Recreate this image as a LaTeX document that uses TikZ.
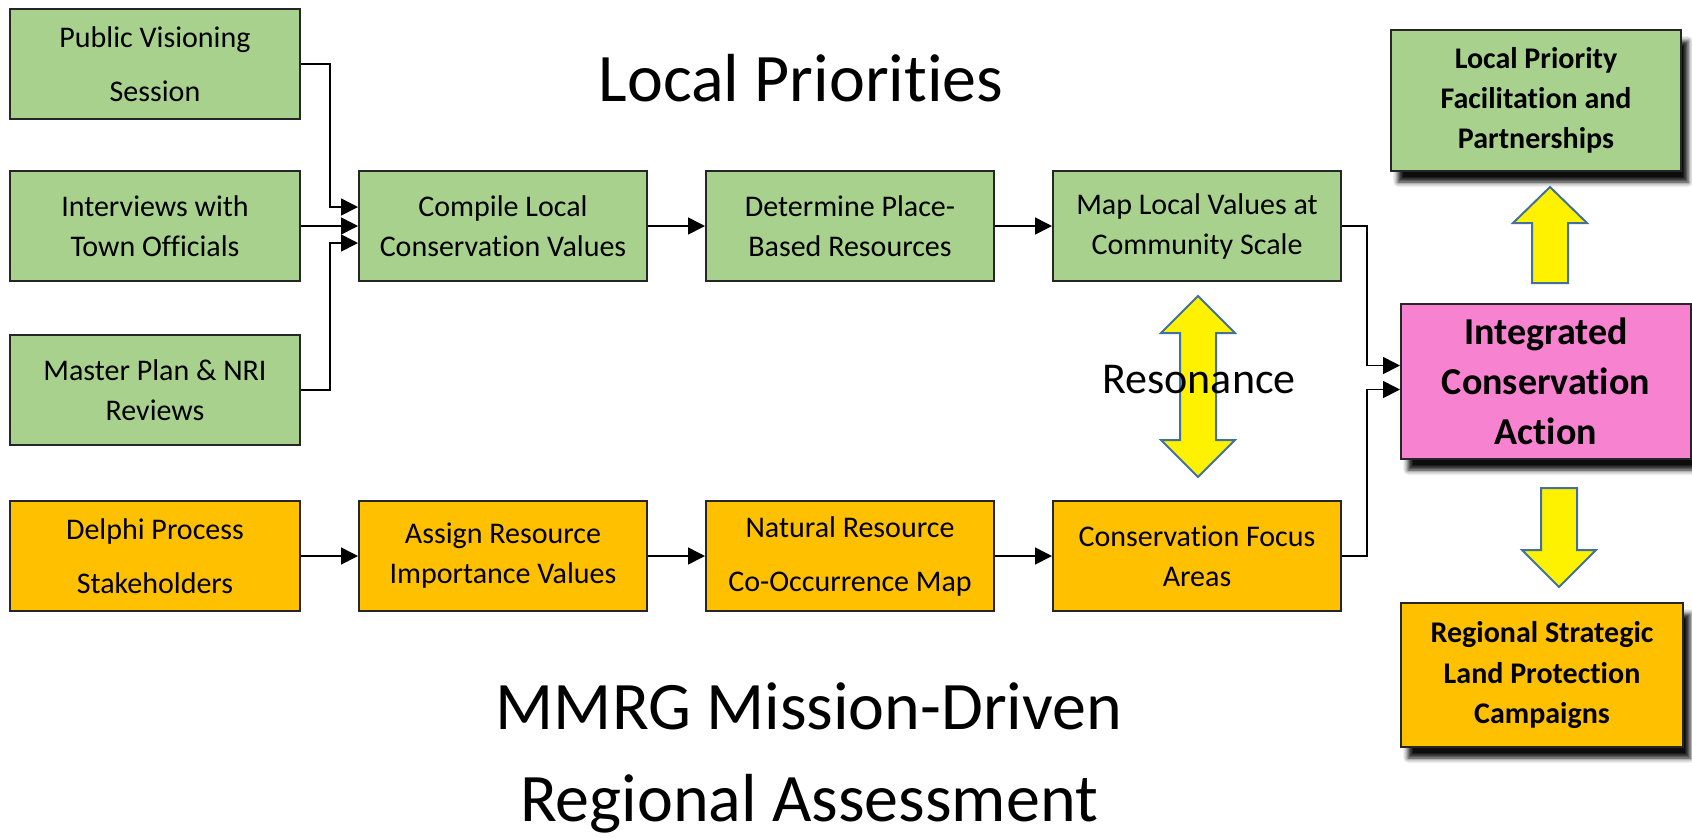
\documentclass[tikz,border=0pt]{standalone}
\usepackage{fontspec}
\setmainfont{Carlito}[Ligatures=NoCommon]
\usetikzlibrary{%
  arrows.meta,%
  positioning,% wg. " of "
  shadows,%
  shadows.blur% blur shadow
}
\definecolor{boxgreen}{RGB}{169,209,142}
\definecolor{boxorange}{RGB}{255,192,0}
\definecolor{boxpink}{RGB}{246,130,208}
\definecolor{arrowblue}{RGB}{65,113,156}

\begin{document}
\begin{tikzpicture}[x=0.5pt,y=-0.5pt, node distance=28.5pt,
    stagebox/.style={draw=black!85, line width=1pt, minimum width=144pt, minimum height=55pt, inner sep=2pt, align=center, font=\fontsize{15}{20}\selectfont},
    local/.style={stagebox, fill=boxgreen},
    regional/.style={stagebox, fill=boxorange},
    source/.style={minimum width=145pt},
    widespaced/.style={font=\fontsize{15}{27}\selectfont},
    outcome/.style={draw=black!85, line width=1pt, align=center, font=\bfseries\fontsize{15}{20}\selectfont,
      blur shadow={shadow xshift=3.5pt, shadow yshift=-5.5pt, shadow blur radius=2.5pt, shadow opacity=95}},
    flow/.style={-{Triangle[length=8.5pt,width=8.5pt]}, line width=0.8pt},
    bigarrow/.style={draw=arrowblue, line width=1pt, fill=yellow, line join=miter},
    title/.style={font=\fontsize{34}{46}\selectfont, align=center}]
    \useasboundingbox (0,0) rectangle (1692,837);

    %local priorities
    \node[local, source, widespaced, anchor=north west] (pub) at (9,8) {Public Visioning\\Session};
    \node[local, source, below=25pt of pub] (intv) {Interviews with\\Town Officials};
    \node[local, source, below=26pt of intv] (mast) {Master Plan \& NRI\\Reviews};
    \node[local, right=of intv] (comp) {Compile Local\\Conservation Values};
    \node[local, right=of comp] (det) {Determine Place-\\Based Resources};
    \node[local, right=of det] (map) {Map Local Values at\\Community Scale};

    %regional assessment
    \node[regional, source, widespaced, below=27pt of mast] (delphi) {Delphi Process\\Stakeholders};
    \node[regional, right=of delphi] (assign) {Assign Resource\\Importance Values};
    \node[regional, widespaced, right=of assign] (nat) {Natural Resource\\Co-Occurrence Map};
    \node[regional, right=of nat] (focus) {Conservation Focus\\Areas};

    %outcomes
    \node[outcome, fill=boxgreen, minimum width=145pt, minimum height=70.5pt, anchor=north west] (lpf) at (1390,29) {Local Priority\\Facilitation and\\Partnerships};
    \node[outcome, fill=boxpink, minimum width=145pt, minimum height=77.5pt, anchor=north west, font=\bfseries\fontsize{19}{25}\selectfont] (ica) at (1400,303) {Integrated\\Conservation\\Action};
    \node[outcome, fill=boxorange, minimum width=141pt, minimum height=72pt, anchor=north west] (slp) at (1400,602) {Regional Strategic\\Land Protection\\Campaigns};

    %block arrows
    \draw[bigarrow] (1198,296) -- (1235,333) -- (1216,333) -- (1216,440) -- (1235,440) -- (1198,477) -- (1161,440) -- (1180,440) -- (1180,333) -- (1161,333) -- cycle;
    \draw[bigarrow] (1550,187) -- (1587,223) -- (1568,223) -- (1568,283) -- (1532,283) -- (1532,223) -- (1513,223) -- cycle;
    \draw[bigarrow] (1541,488) -- (1577,488) -- (1577,550) -- (1596,550) -- (1559,587) -- (1522,550) -- (1541,550) -- cycle;

    \node[title] (loctitle) at (801,78) {Local Priorities};
    \node[title] (mmrgtitle) at (809,758) {MMRG Mission-Driven\\Regional Assessment};
    \node[font=\fontsize{22}{26}\selectfont] (res) at (1199,380) {Resonance};

    \draw[flow] (pub.east) -- ++(14.5pt,0) |- ([yshift=9.5pt]comp.west);
    \draw[flow] (intv) -- (comp);
    \draw[flow] (mast.east) -- ++(14.5pt,0) |- ([yshift=-8.5pt]comp.west);
    \draw[flow] (comp) -- (det);
    \draw[flow] (det) -- (map);
    \draw[flow] (delphi) -- (assign);
    \draw[flow] (assign) -- (nat);
    \draw[flow] (nat) -- (focus);
    \draw[flow] (map.east) -- ++(12.5pt,0) |- ([yshift=8pt]ica.west);
    \draw[flow] (focus.east) -- ++(12.5pt,0) |- ([yshift=-4pt]ica.west);
\end{tikzpicture}
\end{document}
